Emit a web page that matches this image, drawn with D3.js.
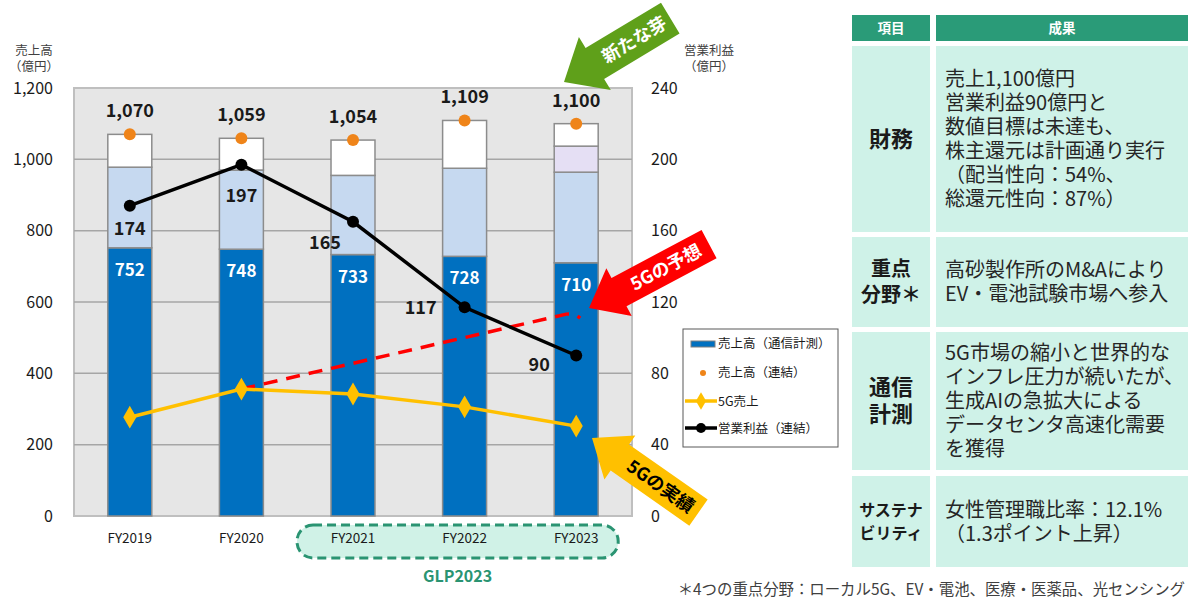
<!DOCTYPE html>
<html>
<head>
<meta charset="utf-8">
<script src="https://cdn.jsdelivr.net/npm/d3@7"></script>
<style>
  body { margin: 0; background: #fff; }
  svg { font-family: "Noto Sans CJK JP", "Noto Sans", sans-serif; }
</style>
</head>
<body>
<svg id="chart" width="1200" height="607"></svg>
<script>
// ---- data ----
const years = ['FY2019', 'FY2020', 'FY2021', 'FY2022', 'FY2023'];
const salesTsushin = [752, 748, 733, 728, 710];   // 売上高（通信計測）
const salesOther = [226, 222, 222, 247, 254];
const salesNew = [0, 0, 0, 0, 73];
const salesRest = [92, 89, 99, 134, 63];
const salesTotal = [1070, 1059, 1054, 1109, 1100]; // 売上高（連結）
const opProfit = [174, 197, 165, 117, 90];         // 営業利益（連結）
const sales5G = [277, 356, 342, 306, 252];         // 5G売上
const forecastYears = ['FY2020', 'FY2023'];
const forecast5G = [356, 566];
const leftTicks = [0, 200, 400, 600, 800, 1000, 1200];
const rightTicks = [0, 40, 80, 120, 160, 200, 240];
const glpYears = ['FY2021', 'FY2022', 'FY2023'];

const tableHead = ['項目', '成果'];
const tableItems = [['財務'], ['重点', '分野＊'], ['通信', '計測'], ['サステナ', 'ビリティ']];
const tableResults = [
  ['売上1,100億円', '営業利益90億円と', '数値目標は未達も、', '株主還元は計画通り実行', '（配当性向：54%、', '総還元性向：87%）'],
  ['高砂製作所のM&Aにより', 'EV・電池試験市場へ参入'],
  ['5G市場の縮小と世界的な', 'インフレ圧力が続いたが、', '生成AIの急拡大による', 'データセンタ高速化需要', 'を獲得'],
  ['女性管理職比率：12.1%', '（1.3ポイント上昇）']
];
const footnote = '＊4つの重点分野：ローカル5G、EV・電池、医療・医薬品、光センシング';

// ---- layout ----
const svg = d3.select('#chart');
const plot = { left: 74, right: 632, top: 88, bottom: 516 };

const x = d3.scaleBand()
  .domain(years)
  .range([plot.left, plot.right])
  .paddingInner(0.606)
  .paddingOuter(0.303);
const yL = d3.scaleLinear().domain([0, 1200]).range([plot.bottom, plot.top]);
const yR = d3.scaleLinear().domain([0, 240]).range([plot.bottom, plot.top]);
const cx = d => x(d) + x.bandwidth() / 2;

// plot background + grid
svg.append('rect')
  .attr('x', plot.left).attr('y', plot.top)
  .attr('width', plot.right - plot.left).attr('height', plot.bottom - plot.top)
  .attr('fill', '#e6e6e6').attr('stroke', '#bfbfbf').attr('stroke-width', 2);

svg.append('g')
  .selectAll('line')
  .data(leftTicks.filter(d => d > 0 && d < 1200))
  .enter().append('line')
  .attr('x1', plot.left).attr('x2', plot.right)
  .attr('y1', d => yL(d)).attr('y2', d => yL(d))
  .attr('stroke', '#a6a6a6').attr('stroke-width', 1.5);

// GLP2023 band
const glpX0 = x(glpYears[0]) - 34;
const glpX1 = x(glpYears[glpYears.length - 1]) + x.bandwidth() + 20;
svg.append('rect')
  .attr('x', glpX0).attr('y', 525)
  .attr('width', glpX1 - glpX0).attr('height', 33)
  .attr('rx', 16)
  .attr('fill', '#d0f2e7').attr('stroke', '#2a9472')
  .attr('stroke-width', 3).attr('stroke-dasharray', '9,5');
svg.append('text')
  .attr('x', (glpX0 + glpX1) / 2).attr('y', 582)
  .attr('text-anchor', 'middle')
  .attr('font-size', 16).attr('font-weight', 'bold')
  .attr('fill', '#2a9472')
  .text('GLP2023');

// stacked bars
const stackRows = years.map((y, i) => ({
  year: y, tsushin: salesTsushin[i], other: salesOther[i], add: salesNew[i], rest: salesRest[i],
}));
const keys = ['tsushin', 'other', 'add', 'rest'];
const colors = { tsushin: '#0070c0', other: '#c6d9f0', add: '#e5dff4', rest: '#ffffff' };
const series = d3.stack().keys(keys)(stackRows);

svg.append('g')
  .selectAll('g')
  .data(series)
  .enter().append('g')
  .attr('fill', d => colors[d.key])
  .selectAll('rect')
  .data(d => d.filter(s => s[1] > s[0]))
  .enter().append('rect')
  .attr('x', d => x(d.data.year))
  .attr('y', d => yL(d[1]))
  .attr('width', x.bandwidth())
  .attr('height', d => yL(d[0]) - yL(d[1]))
  .attr('stroke', '#8c8c8c').attr('stroke-width', 1.5);

// axes
const leftAxis = svg.append('g')
  .attr('transform', `translate(${plot.left},0)`)
  .call(d3.axisLeft(yL).tickValues(leftTicks).tickFormat(d3.format(',')).tickSize(0).tickPadding(21));
const rightAxis = svg.append('g')
  .attr('transform', `translate(${plot.right},0)`)
  .call(d3.axisRight(yR).tickValues(rightTicks).tickSize(0).tickPadding(19));
const bottomAxis = svg.append('g')
  .attr('transform', `translate(0,${plot.bottom})`)
  .call(d3.axisBottom(x).tickSize(0).tickPadding(17));
[leftAxis, rightAxis, bottomAxis].forEach((a) => {
  a.select('.domain').remove();
  a.selectAll('text').attr('font-family', '"Noto Sans CJK JP", sans-serif').attr('fill', '#1a1a1a');
});
leftAxis.selectAll('text').attr('font-size', 16);
rightAxis.selectAll('text').attr('font-size', 16);
bottomAxis.selectAll('text').attr('font-size', 13.5);

// axis titles
const axisTitle = (tx, lines) => {
  svg.append('text')
    .attr('x', tx).attr('y', 55)
    .attr('text-anchor', 'middle')
    .attr('font-size', 12.5).attr('fill', '#404040')
    .selectAll('tspan').data(lines).enter().append('tspan')
    .attr('x', tx).attr('dy', (d, i) => (i === 0 ? 0 : 16))
    .text(d => d);
};
axisTitle(34, ['売上高', '（億円）']);
axisTitle(709, ['営業利益', '（億円）']);

// dark blue values
svg.append('g')
  .selectAll('text')
  .data(years)
  .enter().append('text')
  .attr('x', d => cx(d))
  .attr('y', (d, i) => yL(salesTsushin[i]) + 28)
  .attr('text-anchor', 'middle')
  .attr('font-size', 17).attr('font-weight', 'bold')
  .attr('fill', '#fff')
  .text((d, i) => salesTsushin[i]);

// total labels + orange dots
svg.append('g')
  .selectAll('text')
  .data(years)
  .enter().append('text')
  .attr('x', d => cx(d))
  .attr('y', (d, i) => yL(salesTotal[i]) - 17)
  .attr('text-anchor', 'middle')
  .attr('font-size', 18).attr('font-weight', 'bold')
  .attr('fill', '#1a1a1a')
  .text((d, i) => d3.format(',')(salesTotal[i]));

svg.append('g')
  .selectAll('circle')
  .data(years)
  .enter().append('circle')
  .attr('cx', d => cx(d))
  .attr('cy', (d, i) => yL(salesTotal[i]))
  .attr('r', 6)
  .attr('fill', '#ef8419');

// 5G forecast (dashed)
const fx0 = cx(forecastYears[0]);
const fy0 = yL(forecast5G[0]);
const fx1 = cx(forecastYears[1]) - 10;
const fy1 = yL(forecast5G[1]);
svg.append('path')
  .attr('d', `M${fx0},${fy0} L${fx1},${fy1} Q${fx1 + 8},${fy1 - 1} ${fx1 + 14},${fy1 + 4}`)
  .attr('fill', 'none').attr('stroke', '#ff0000')
  .attr('stroke-width', 3.5).attr('stroke-dasharray', '14,9');

// 5G sales line
const line5G = d3.line().x((d, i) => cx(years[i])).y(d => yL(d));
svg.append('path')
  .datum(sales5G)
  .attr('d', line5G)
  .attr('fill', 'none').attr('stroke', '#ffc000').attr('stroke-width', 3.5);
svg.append('g')
  .selectAll('path')
  .data(sales5G)
  .enter().append('path')
  .attr('d', d3.symbol(d3.symbolDiamond, 150))
  .attr('transform', (d, i) => `translate(${cx(years[i])},${yL(d)})`)
  .attr('fill', '#ffc000');

// operating profit line
const lineOp = d3.line().x((d, i) => cx(years[i])).y(d => yR(d));
svg.append('path')
  .datum(opProfit)
  .attr('d', lineOp)
  .attr('fill', 'none').attr('stroke', '#000').attr('stroke-width', 3.5);
svg.append('g')
  .selectAll('circle')
  .data(opProfit)
  .enter().append('circle')
  .attr('cx', (d, i) => cx(years[i]))
  .attr('cy', d => yR(d))
  .attr('r', 6)
  .attr('fill', '#000');

const opLabelOffset = [[0, 23], [0, 31], [-28, 21], [-44, 0], [-37, 9]];
svg.append('g')
  .selectAll('text')
  .data(opProfit)
  .enter().append('text')
  .attr('x', (d, i) => cx(years[i]) + opLabelOffset[i][0])
  .attr('y', (d, i) => yR(d) + opLabelOffset[i][1])
  .attr('dy', '0.36em')
  .attr('text-anchor', 'middle')
  .attr('font-size', 18).attr('font-weight', 'bold')
  .attr('fill', '#1a1a1a')
  .text(d => d);

// legend
const lg = svg.append('g').attr('transform', 'translate(683,329)');
lg.append('rect').attr('width', 155).attr('height', 118)
  .attr('fill', '#fff').attr('stroke', '#595959').attr('stroke-width', 1);
const legendItems = ['売上高（通信計測）', '売上高（連結）', '5G売上', '営業利益（連結）'];
const ly = [14, 43, 72, 99];
lg.append('rect').attr('x', 8).attr('y', ly[0] - 2).attr('width', 24).attr('height', 6)
  .attr('fill', '#0070c0').attr('stroke', '#7f7f7f');
lg.append('circle').attr('cx', 20).attr('cy', ly[1] + 1).attr('r', 3).attr('fill', '#ef8419');
lg.append('line').attr('x1', 2).attr('x2', 34).attr('y1', ly[2]).attr('y2', ly[2])
  .attr('stroke', '#ffc000').attr('stroke-width', 3.5);
lg.append('path').attr('d', d3.symbol(d3.symbolDiamond, 90))
  .attr('transform', `translate(18,${ly[2]})`).attr('fill', '#ffc000');
lg.append('line').attr('x1', 2).attr('x2', 34).attr('y1', ly[3]).attr('y2', ly[3])
  .attr('stroke', '#000').attr('stroke-width', 3.5);
lg.append('circle').attr('cx', 18).attr('cy', ly[3]).attr('r', 5).attr('fill', '#000');
lg.selectAll('text.lt')
  .data(legendItems)
  .enter().append('text')
  .attr('class', 'lt')
  .attr('x', 35)
  .attr('y', (d, i) => ly[i])
  .attr('dy', '0.36em')
  .attr('font-size', 12.5).attr('fill', '#1a1a1a')
  .text(d => d);

// arrows
function drawArrow(tipX, tipY, angle, len, bodyW, headW, headL, fill, label, color) {
  const g = svg.append('g').attr('transform', `translate(${tipX},${tipY}) rotate(${angle})`);
  const pts = [[0, 0], [headL, -headW / 2], [headL, -bodyW / 2], [len, -bodyW / 2],
    [len, bodyW / 2], [headL, bodyW / 2], [headL, headW / 2]];
  g.append('polygon').attr('points', pts.map(p => p.join(',')).join(' ')).attr('fill', fill);
  g.append('text')
    .attr('x', (headL + len) / 2 + 2).attr('y', 0)
    .attr('dy', '0.36em')
    .attr('text-anchor', 'middle')
    .attr('font-size', 18).attr('font-weight', 'bold')
    .attr('fill', color)
    .text(label);
}
drawArrow(564, 82, -31, 124, 36, 62, 36, '#5fa01a', '新たな芽', '#fff');
drawArrow(589, 308, -28, 136, 32, 54, 34, '#ff0000', '5Gの予想', '#fff');
drawArrow(592, 438, 35, 130, 32, 54, 34, '#ffc000', '5Gの実績', '#000');

// table
const col = [{ x: 852, w: 78 }, { x: 936, w: 252 }];
const rowsY = [[46, 232], [237, 327], [332, 470], [476, 567]];
const tg = svg.append('g');
col.forEach((c, j) => {
  tg.append('rect').attr('x', c.x).attr('y', 15).attr('width', c.w).attr('height', 26).attr('fill', '#2a9b78');
  tg.append('text').attr('x', c.x + c.w / 2).attr('y', 28).attr('dy', '0.36em')
    .attr('text-anchor', 'middle').attr('font-size', 13.5).attr('font-weight', 'bold')
    .attr('fill', '#fff').text(tableHead[j]);
});
const itemSize = [22, 20, 22, 16];
const itemStep = [0, 26, 27, 23];
rowsY.forEach((r, i) => {
  const mid = (r[0] + r[1]) / 2;
  col.forEach((c) => {
    tg.append('rect').attr('x', c.x).attr('y', r[0]).attr('width', c.w).attr('height', r[1] - r[0])
      .attr('fill', '#cff2e8');
  });
  const items = tableItems[i];
  items.forEach((t, k) => {
    tg.append('text')
      .attr('x', col[0].x + col[0].w / 2)
      .attr('y', mid + (k - (items.length - 1) / 2) * itemStep[i])
      .attr('dy', '0.36em')
      .attr('text-anchor', 'middle')
      .attr('font-size', itemSize[i]).attr('font-weight', 'bold')
      .attr('fill', '#1a1a1a')
      .text(t);
  });
  const res = tableResults[i];
  res.forEach((t, k) => {
    tg.append('text')
      .attr('x', 945)
      .attr('y', mid + (k - (res.length - 1) / 2) * 24)
      .attr('dy', '0.36em')
      .attr('font-size', 20)
      .attr('fill', '#262626')
      .text(t);
  });
});

svg.append('text')
  .attr('x', 1185).attr('y', 589)
  .attr('dy', '0.36em')
  .attr('text-anchor', 'end')
  .attr('font-size', 15.4).attr('fill', '#404040')
  .text(footnote);
</script>
</body>
</html>
